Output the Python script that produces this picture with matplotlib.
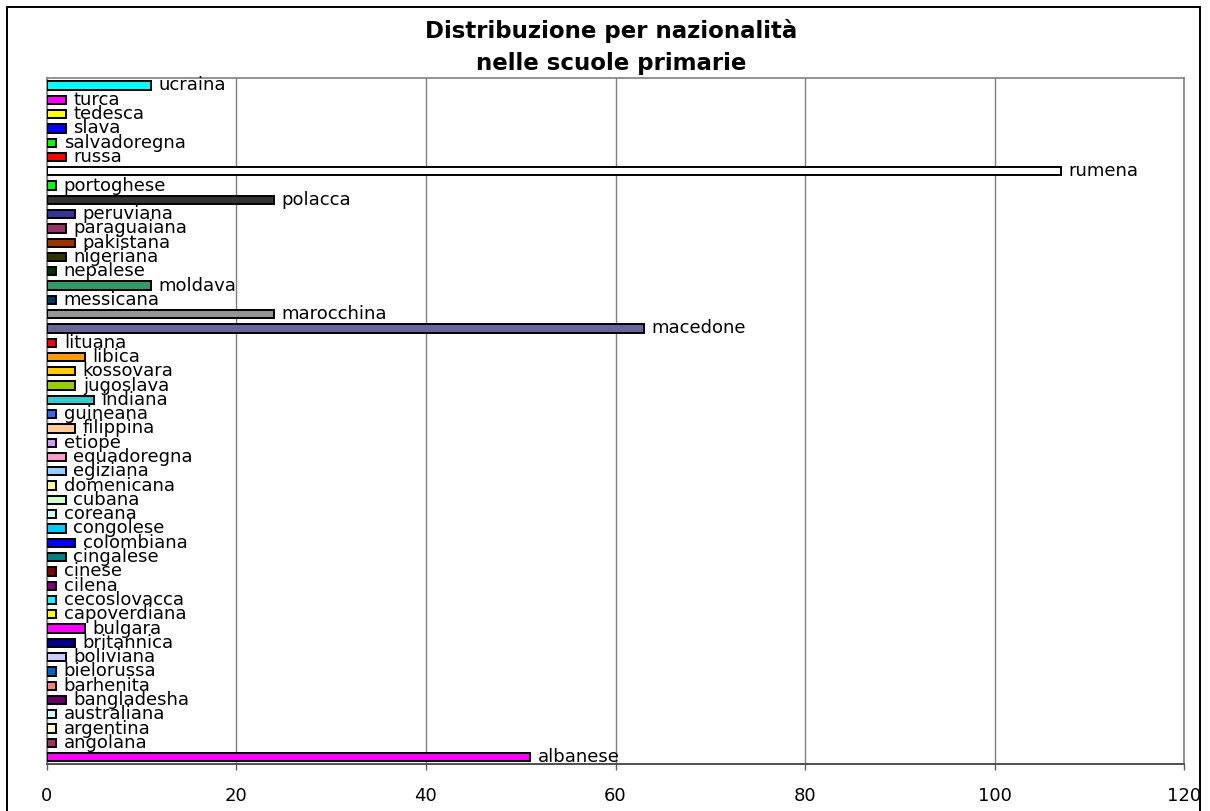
import matplotlib
matplotlib.use("Agg")
import matplotlib.pyplot as plt
from matplotlib.patches import Rectangle

# nationalities, bottom to top
nazioni = ["albanese", "angolana", "argentina", "australiana", "bangladesha",
           "barhenita", "bielorussa", "boliviana", "britannica", "bulgara",
           "capoverdiana", "cecoslovacca", "cilena", "cinese", "cingalese",
           "colombiana", "congolese", "coreana", "cubana", "domenicana",
           "egiziana", "equadoregna", "etiope", "filippina", "guineana",
           "indiana", "jugoslava", "kossovara", "libica", "lituana",
           "macedone", "marocchina", "messicana", "moldava", "nepalese",
           "nigeriana", "pakistana", "paraguaiana", "peruviana", "polacca",
           "portoghese", "rumena", "russa", "salvadoregna", "slava",
           "tedesca", "turca", "ucraina"]

alunni = [51, 1, 1, 1, 2,
          1, 1, 2, 3, 4,
          1, 1, 1, 1, 2,
          3, 2, 1, 2, 1,
          2, 2, 1, 3, 1,
          5, 3, 3, 4, 1,
          63, 24, 1, 11, 1,
          2, 3, 2, 3, 24,
          1, 107, 2, 1, 2,
          2, 2, 11]

colori = ["#FF00FF", "#993366", "#FFFFCC", "#CCFFFF", "#660066",
          "#FF8080", "#0066CC", "#CCCCFF", "#000080", "#FF00FF",
          "#FFFF00", "#00FFFF", "#800080", "#800000", "#008080",
          "#0000FF", "#00CCFF", "#CCFFFF", "#CCFFCC", "#FFFF99",
          "#99CCFF", "#FF99CC", "#CC99FF", "#FFCC99", "#3366FF",
          "#33CCCC", "#99CC00", "#FFCC00", "#FF9900", "#FF0000",
          "#666699", "#969696", "#003366", "#339966", "#003300",
          "#333300", "#993300", "#993366", "#333399", "#333333",
          "#00FF00", "#FFFFFF", "#FF0000", "#00FF00", "#0000FF",
          "#FFFF00", "#FF00FF", "#00FFFF"]

xticks = [0, 20, 40, 60, 80, 100, 120]

plt.rcParams['font.family'] = ['DejaVu Sans']

fig = plt.figure(figsize=(12.1, 8.11), dpi=100)
ax = fig.add_axes([0.0386, 0.0576, 0.9402, 0.8458])

pos = range(len(nazioni))
ax.barh(pos, alunni, height=0.58, color=colori, edgecolor="black",
        linewidth=1.4, zorder=3)

for y, v, name in zip(pos, alunni, nazioni):
    ax.annotate(name, (v, y), xytext=(5.5, 0), textcoords="offset points",
                va="center", ha="left", fontsize=13, zorder=4)

ax.set_xlim(0, 120)
ax.set_ylim(-0.5, len(nazioni) - 0.5)
ax.set_xticks(xticks)
ax.set_yticks([])
ax.tick_params(axis="x", length=4, width=1, color="#606060", pad=12,
               labelsize=13)
ax.grid(axis="x", color="#808080", linewidth=1, zorder=0)
for s in ["top", "right", "left"]:
    ax.spines[s].set_color("#808080")
    ax.spines[s].set_linewidth(1.2)
ax.spines["bottom"].set_color("#505050")
ax.spines["bottom"].set_linewidth(1.4)

fig.text(0.505, 0.942, "Distribuzione per nazionalità\nnelle scuole primarie",
         ha="center", va="center", fontsize=16.5, fontweight="bold",
         linespacing=1.45)

# outer chart border
fig.patches.append(Rectangle((7 / 1210, -0.01), 1193 / 1210, 1.01 - 7 / 811,
                             transform=fig.transFigure, fill=False,
                             edgecolor="black", linewidth=1.4))

fig.savefig("out.png", dpi=100)
